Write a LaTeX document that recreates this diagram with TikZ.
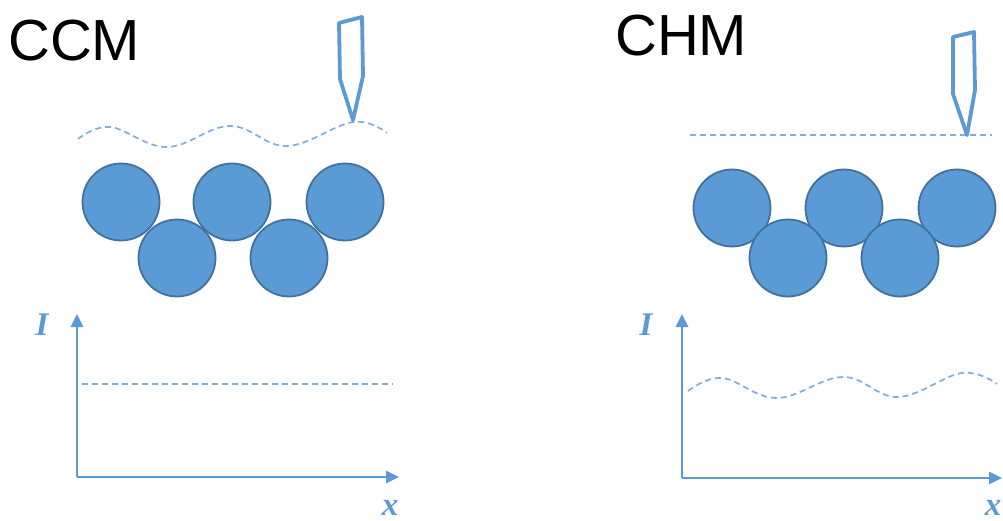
\documentclass[tikz,border=0pt]{standalone}
\usepackage{fontspec}
\setmainfont{Liberation Sans}
\newfontfamily\labelserif{Liberation Serif}
\usetikzlibrary{arrows.meta}
\definecolor{ballfill}{HTML}{5B9BD5}
\definecolor{ballline}{HTML}{41719C}
\definecolor{axisblue}{HTML}{5B9BD5}
\definecolor{dashblue}{HTML}{7FAEDC}
\tikzset{
  ball/.style={circle, draw=ballline, fill=ballfill, line width=1.8pt, minimum size=77pt, inner sep=0pt},
  axisline/.style={draw=axisblue, line width=2.6pt, -{Triangle[length=13pt,width=12pt]}},
  probe/.style={draw=axisblue, line width=3.8pt, line join=round},
  trace/.style={draw=dashblue, line width=1.7pt, dash pattern=on 6pt off 4pt},
  title/.style={font=\fontsize{58}{60}\selectfont, text=black, inner sep=0pt},
  axlabel/.style={text=axisblue, font=\labelserif\bfseries\itshape\fontsize{33}{35}\selectfont, inner sep=0pt}
}
\begin{document}
\begin{tikzpicture}[x=1pt,y=-1pt]
\useasboundingbox (0,0) rectangle (1003,521);
% titles
\node[title, anchor=south west] (tccm) at (8,61) {CCM};
\node[title, anchor=south west] (tchm) at (615,56) {CHM};

% ----- left: CCM -----
\node[ball] (l1) at (121,202) {};
\node[ball] (l3) at (232,202) {};
\node[ball] (l5) at (345,202) {};
\node[ball] (l2) at (177,258) {};
\node[ball] (l4) at (289,258) {};
\draw[trace] plot[smooth, tension=0.65] coordinates {(78,139) (110,127) (167,147) (230,126) (287,146) (353,122) (387,133)};
\draw[probe] (339,23) -- (362,17) -- (363,76) -- (353,120) -- (340,79) -- cycle;

\coordinate (lo) at (77,477);
\coordinate (ly) at (77,314);
\coordinate (lx) at (399,477);
\draw[axisline] (lo) -- (ly);
\draw[axisline] (lo) -- (lx);
\coordinate (lda) at (82,384);
\coordinate (ldb) at (393,384);
\draw[trace] (lda) -- (ldb);
\node[axlabel] (lI) at (42,325) {I};
\node[axlabel] (lX) at (390,508) {x};

% ----- right: CHM -----
\node[ball] (r1) at (732,208) {};
\node[ball] (r3) at (844,208) {};
\node[ball] (r5) at (957,208) {};
\node[ball] (r2) at (788,258) {};
\node[ball] (r4) at (900,258) {};
\coordinate (rda) at (690,135);
\coordinate (rdb) at (992,135);
\draw[trace] (rda) -- (rdb);
\draw[probe] (953,37) -- (974,32) -- (975,90) -- (967,135) -- (953,94) -- cycle;

\coordinate (ro) at (682,478);
\coordinate (ry) at (682,314);
\coordinate (rx) at (1002,478);
\draw[axisline] (ro) -- (ry);
\draw[axisline] (ro) -- (rx);
\draw[trace] plot[smooth, tension=0.65] coordinates {(688,391) (722,378) (777,398) (843,377) (898,397) (962,373) (997,384)};
\node[axlabel] (rI) at (646,325) {I};
\node[axlabel] (rX) at (993,508) {x};
\end{tikzpicture}
\end{document}
